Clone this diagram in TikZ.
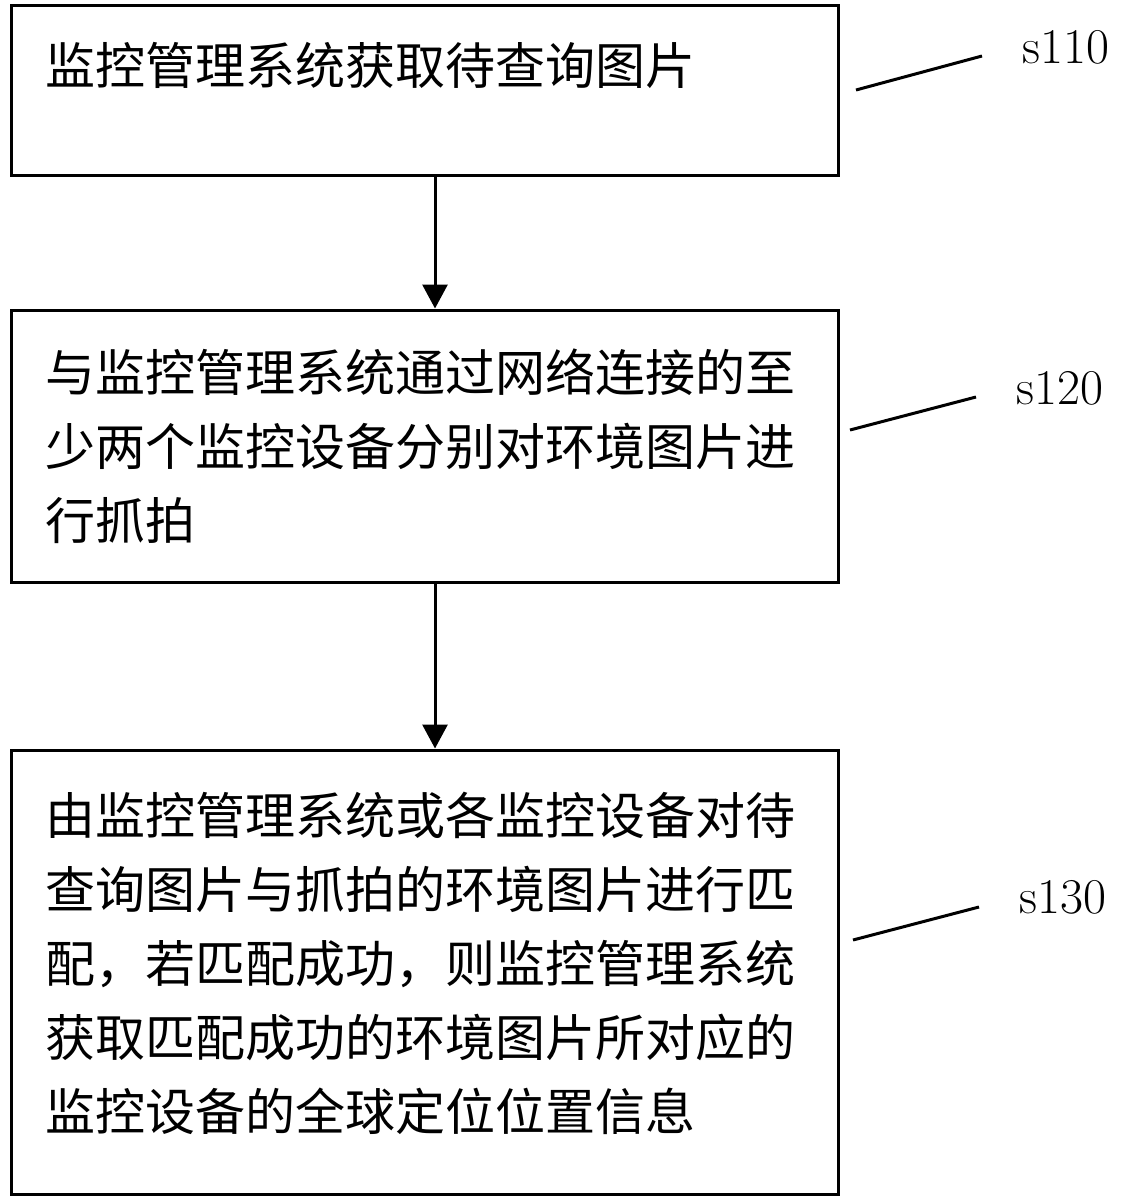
\documentclass[tikz,border=0pt]{standalone}
\usepackage{fontspec}
\newfontfamily\cjk{Noto Sans CJK SC}
\usetikzlibrary{arrows.meta}
\begin{document}
\begin{tikzpicture}[x=1pt,y=-1pt,
  box/.style={draw, line width=3pt, minimum width=827pt, inner sep=0pt, anchor=center},
  txt/.style={anchor=west, align=left, inner sep=0pt, font=\cjk\fontsize{50}{74}\selectfont},
  arr/.style={line width=3pt, -{Triangle[width=25pt,length=24pt]}},
  lead/.style={line width=3pt},
  lbl/.style={inner sep=0pt, font=\fontsize{50}{52}\selectfont}]
\useasboundingbox (0,0) rectangle (1125,1200);
\node[box, minimum height=170pt] (b1) at (424.5,90) {};
\node[box, minimum height=272pt] (b2) at (424.5,446) {};
\node[box, minimum height=444pt] (b3) at (424.5,972) {};
\node[txt] (t1) at (45,65) {监控管理系统获取待查询图片};
\node[txt] (t2) at (45,446) {与监控管理系统通过网络连接的至\\少两个监控设备分别对环境图片进\\行抓拍};
\node[txt] (t3) at (45,963) {由监控管理系统或各监控设备对待\\查询图片与抓拍的环境图片进行匹\\配，若匹配成功，则监控管理系统\\获取匹配成功的环境图片所对应的\\监控设备的全球定位位置信息};
\coordinate (ax) at (435,0);
\draw[arr] (b1.south -| ax) -- (b2.north -| ax);
\draw[arr] (b2.south -| ax) -- (b3.north -| ax);
\node[lbl] (l1) at (1066,47) {s110};
\node[lbl] (l2) at (1060,388) {s120};
\node[lbl] (l3) at (1063,897) {s130};
\coordinate (a1) at (856,90); \coordinate (e1) at (982,56);
\coordinate (a2) at (850,430); \coordinate (e2) at (976,397);
\coordinate (a3) at (853,940); \coordinate (e3) at (979,907);
\draw[lead] (a1) -- (e1);
\draw[lead] (a2) -- (e2);
\draw[lead] (a3) -- (e3);
\end{tikzpicture}
\end{document}
